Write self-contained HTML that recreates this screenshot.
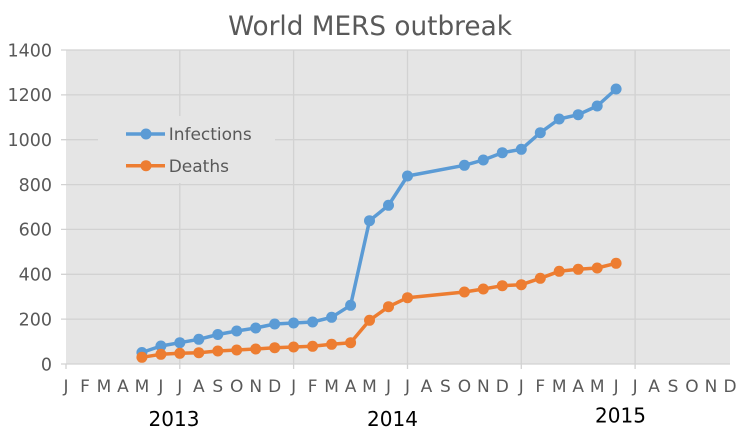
<!DOCTYPE html>
<html><head><meta charset="utf-8"><style>
html,body{margin:0;padding:0;background:#fff;}
svg{display:block;}
text{font-family:"DejaVu Sans","Liberation Sans",sans-serif;}
</style></head><body>
<svg width="745" height="439" viewBox="0 0 745 439" xmlns="http://www.w3.org/2000/svg">
<rect width="745" height="439" fill="#fff"/>
<text x="370" y="35" font-size="26.3" fill="#595959" text-anchor="middle">World MERS outbreak</text>
<rect x="66" y="50" width="664" height="314" fill="#e5e5e5"/>
<g stroke="#d2d2d2" stroke-width="1.3">
<line x1="61" y1="50" x2="730" y2="50"/>
<line x1="61" y1="94.9" x2="730" y2="94.9"/>
<line x1="61" y1="139.7" x2="730" y2="139.7"/>
<line x1="61" y1="184.6" x2="730" y2="184.6"/>
<line x1="61" y1="229.4" x2="730" y2="229.4"/>
<line x1="61" y1="274.3" x2="730" y2="274.3"/>
<line x1="61" y1="319.1" x2="730" y2="319.1"/>
<line x1="61" y1="364" x2="730" y2="364"/>
<line x1="179.8" y1="50" x2="179.8" y2="369"/>
<line x1="293.6" y1="50" x2="293.6" y2="369"/>
<line x1="407.5" y1="50" x2="407.5" y2="369"/>
<line x1="521.3" y1="50" x2="521.3" y2="369"/>
<line x1="635.1" y1="50" x2="635.1" y2="369"/>
<line x1="66" y1="364" x2="66" y2="369"/>
</g>
<rect x="98" y="116" width="177" height="67" fill="#e5e5e5"/>
<g font-size="17.5" fill="#595959" text-anchor="end">
<text x="52" y="56.3">1400</text>
<text x="52" y="101.2">1200</text>
<text x="52" y="146">1000</text>
<text x="52" y="190.9">800</text>
<text x="52" y="235.7">600</text>
<text x="52" y="280.6">400</text>
<text x="52" y="325.4">200</text>
<text x="52" y="370.3">0</text>
</g>
<g font-size="17" fill="#595959" text-anchor="middle">
<text x="66" y="392">J</text><text x="85" y="392">F</text><text x="103.9" y="392">M</text><text x="122.9" y="392">A</text><text x="141.9" y="392">M</text><text x="160.9" y="392">J</text><text x="179.8" y="392">J</text><text x="198.8" y="392">A</text><text x="217.8" y="392">S</text><text x="236.7" y="392">O</text><text x="255.7" y="392">N</text><text x="274.7" y="392">D</text>
<text x="293.6" y="392">J</text><text x="312.6" y="392">F</text><text x="331.6" y="392">M</text><text x="350.6" y="392">A</text><text x="369.5" y="392">M</text><text x="388.5" y="392">J</text><text x="407.5" y="392">J</text><text x="426.4" y="392">A</text><text x="445.4" y="392">S</text><text x="464.4" y="392">O</text><text x="483.3" y="392">N</text><text x="502.3" y="392">D</text>
<text x="521.3" y="392">J</text><text x="540.3" y="392">F</text><text x="559.2" y="392">M</text><text x="578.2" y="392">A</text><text x="597.2" y="392">M</text><text x="616.1" y="392">J</text><text x="635.1" y="392">J</text><text x="654.1" y="392">A</text><text x="673" y="392">S</text><text x="692" y="392">O</text><text x="711" y="392">N</text><text x="730" y="392">D</text>
</g>
<g font-size="20" fill="#000" text-anchor="middle">
<text x="174" y="426">2013</text>
<text x="392.5" y="426">2014</text>
<text x="620.5" y="422.5">2015</text>
</g>
<polyline fill="none" stroke="#5b9bd5" stroke-width="3.5" stroke-linejoin="round" points="141.9,352.5 160.9,346 179.8,342.7 198.8,339.3 217.8,334.5 236.7,331 255.7,328 274.7,324 293.6,323 312.6,322 331.6,317.3 350.6,305.3 369.5,220.7 388.5,205.3 407.5,176 464.4,165.3 483.3,160 502.3,152.7 521.3,149.3 540.3,132.7 559.2,119 578.2,114.7 597.2,106 616.1,89"/>
<g fill="#5b9bd5">
<circle cx="141.9" cy="352.5" r="5.5"/><circle cx="160.9" cy="346" r="5.5"/><circle cx="179.8" cy="342.7" r="5.5"/><circle cx="198.8" cy="339.3" r="5.5"/><circle cx="217.8" cy="334.5" r="5.5"/><circle cx="236.7" cy="331" r="5.5"/><circle cx="255.7" cy="328" r="5.5"/><circle cx="274.7" cy="324" r="5.5"/><circle cx="293.6" cy="323" r="5.5"/><circle cx="312.6" cy="322" r="5.5"/><circle cx="331.6" cy="317.3" r="5.5"/><circle cx="350.6" cy="305.3" r="5.5"/><circle cx="369.5" cy="220.7" r="5.5"/><circle cx="388.5" cy="205.3" r="5.5"/><circle cx="407.5" cy="176" r="5.5"/><circle cx="464.4" cy="165.3" r="5.5"/><circle cx="483.3" cy="160" r="5.5"/><circle cx="502.3" cy="152.7" r="5.5"/><circle cx="521.3" cy="149.3" r="5.5"/><circle cx="540.3" cy="132.7" r="5.5"/><circle cx="559.2" cy="119" r="5.5"/><circle cx="578.2" cy="114.7" r="5.5"/><circle cx="597.2" cy="106" r="5.5"/><circle cx="616.1" cy="89" r="5.5"/>
</g>
<polyline fill="none" stroke="#ed7d31" stroke-width="3.5" stroke-linejoin="round" points="141.9,357.3 160.9,354.3 179.8,353.3 198.8,352.7 217.8,351 236.7,350 255.7,349 274.7,347.7 293.6,347 312.6,346.3 331.6,344.3 350.6,342.7 369.5,320.3 388.5,306.7 407.5,297.7 464.4,292 483.3,289 502.3,285.7 521.3,284.7 540.3,278.3 559.2,271.3 578.2,269.3 597.2,268 616.1,263.3"/>
<g fill="#ed7d31">
<circle cx="141.9" cy="357.3" r="5.5"/><circle cx="160.9" cy="354.3" r="5.5"/><circle cx="179.8" cy="353.3" r="5.5"/><circle cx="198.8" cy="352.7" r="5.5"/><circle cx="217.8" cy="351" r="5.5"/><circle cx="236.7" cy="350" r="5.5"/><circle cx="255.7" cy="349" r="5.5"/><circle cx="274.7" cy="347.7" r="5.5"/><circle cx="293.6" cy="347" r="5.5"/><circle cx="312.6" cy="346.3" r="5.5"/><circle cx="331.6" cy="344.3" r="5.5"/><circle cx="350.6" cy="342.7" r="5.5"/><circle cx="369.5" cy="320.3" r="5.5"/><circle cx="388.5" cy="306.7" r="5.5"/><circle cx="407.5" cy="297.7" r="5.5"/><circle cx="464.4" cy="292" r="5.5"/><circle cx="483.3" cy="289" r="5.5"/><circle cx="502.3" cy="285.7" r="5.5"/><circle cx="521.3" cy="284.7" r="5.5"/><circle cx="540.3" cy="278.3" r="5.5"/><circle cx="559.2" cy="271.3" r="5.5"/><circle cx="578.2" cy="269.3" r="5.5"/><circle cx="597.2" cy="268" r="5.5"/><circle cx="616.1" cy="263.3" r="5.5"/>
</g>
<line x1="126" y1="134" x2="165" y2="134" stroke="#5b9bd5" stroke-width="3.5"/>
<circle cx="146" cy="134" r="5.5" fill="#5b9bd5"/>
<line x1="126" y1="165.7" x2="165" y2="165.7" stroke="#ed7d31" stroke-width="3.5"/>
<circle cx="146" cy="165.7" r="5.5" fill="#ed7d31"/>
<g font-size="17" fill="#595959">
<text x="168.7" y="140.2">Infections</text>
<text x="168.7" y="171.9">Deaths</text>
</g>
</svg>
</body></html>
